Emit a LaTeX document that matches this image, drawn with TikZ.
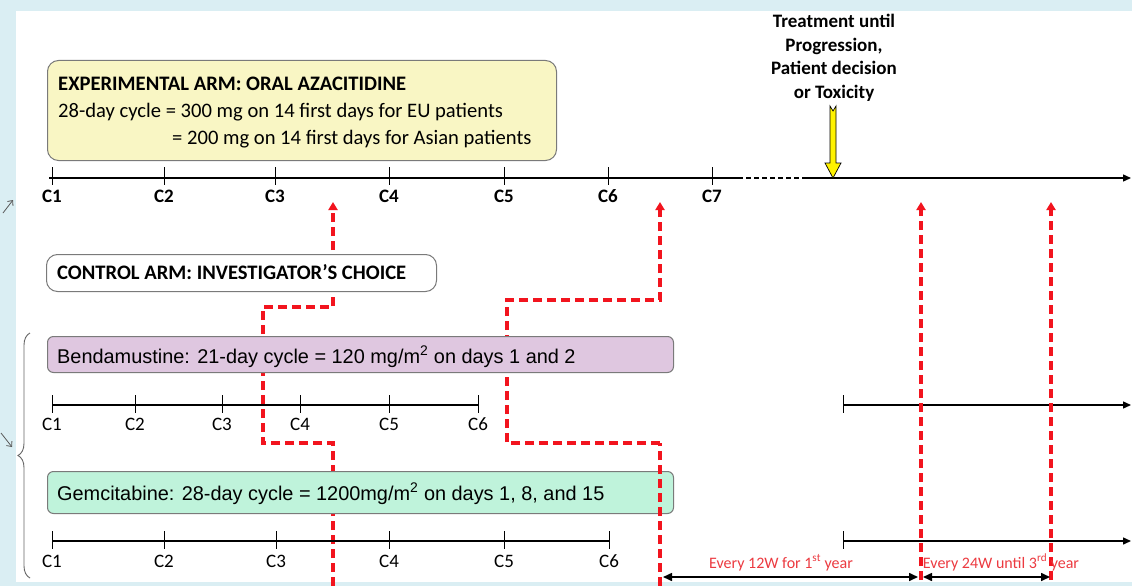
\documentclass[tikz,border=0pt]{standalone}
\usepackage{fontspec}
\setmainfont{Carlito}
\newfontfamily\arialf{Liberation Sans}
\usetikzlibrary{arrows.meta,decorations.pathreplacing}
\definecolor{bgblue}{HTML}{DAEEF3}
\definecolor{yelfill}{HTML}{F9F6C4}
\definecolor{purfill}{HTML}{DFC7E0}
\definecolor{mintfill}{HTML}{BFF3DB}
\definecolor{boxgray}{HTML}{7A7A7A}
\definecolor{arrred}{HTML}{F2141E}
\definecolor{txtred}{HTML}{EC3A40}
\begin{document}
\begin{tikzpicture}[x=1pt,y=-1pt,
  armbox/.style={draw=boxgray, line width=1pt, rounded corners=11pt, anchor=north west, inner sep=0pt},
  boxtext/.style={anchor=base west, inner sep=0pt, font=\fontsize{20.6}{24}\selectfont},
  boxtitle/.style={anchor=base west, inner sep=0pt, font=\bfseries\fontsize{20.6}{24}\selectfont},
  drugtext/.style={anchor=base west, inner sep=0pt, font=\arialf\fontsize{19.9}{24}\selectfont},
  tline/.style={line width=1.4pt, black},
  tickmark/.style={line width=0.9pt, black},
  toplab/.style={anchor=base, inner sep=0pt, font=\bfseries\fontsize{19}{21}\selectfont},
  lowlab/.style={anchor=base, inner sep=0pt, font=\fontsize{19}{21}\selectfont},
  reddash/.style={draw=arrred, line width=3.2pt, dash pattern=on 9pt off 5pt},
  redtip/.style={-{Triangle[length=8pt,width=9pt]}},
  endtip/.style={-{Triangle[length=8pt,width=7pt]}},
  both/.style={{Triangle[length=9pt,width=8pt]}-{Triangle[length=9pt,width=8pt]}, line width=1.6pt},
  redlab/.style={anchor=base, inner sep=0pt, text=txtred, font=\fontsize{16}{18}\selectfont}
]
\useasboundingbox (0,0) rectangle (1132,586);
\fill[bgblue] (0,0) rectangle (1132,586);
\fill[white] (16,11) rectangle (1132,582);

% small marks in the left margin
\draw[gray!70!black, line width=0.8pt, -{Straight Barb[length=4pt,width=7pt]}] (3,213) -- (13,200);
\draw[gray!70!black, line width=0.8pt, -{Straight Barb[length=4pt,width=7pt]}] (1,433) -- (12,447);

% brace
\draw[decorate, decoration={brace, amplitude=12pt}, draw=gray!80!black, line width=0.9pt] (30,578) -- (30,333);

% ---------- red dashed paths (behind the boxes) ----------
\coordinate (p1bot) at (333,586);
\coordinate (p1c) at (333,443);
\coordinate (p1d) at (263,443);
\coordinate (p1e) at (263,307);
\coordinate (p1f) at (333,307);
\coordinate (p1tip) at (333,202);
\draw[reddash, redtip] (p1bot) -- (p1c) -- (p1d) -- (p1e) -- (p1f) -- (p1tip);

\coordinate (p2c) at (660,443);
\coordinate (p2d) at (507,443);
\coordinate (p2e) at (507,300);
\coordinate (p2f) at (660,300);
\coordinate (p2tip) at (660,202);
\draw[reddash, redtip] (p2c) -- (p2d) -- (p2e) -- (p2f) -- (p2tip);

% ---------- boxes ----------
\node[armbox, fill=yelfill, minimum width=509pt, minimum height=100pt] (exp) at (47,60) {};
\node[boxtitle] (expT) at (58,90) {EXPERIMENTAL ARM: ORAL AZACITIDINE};
\node[boxtext] (expA) at (58,117) {28-day cycle = 300 mg on 14 first days for EU patients};
\node[boxtext] (expB) at (172,144) {= 200 mg on 14 first days for Asian patients};

\node[armbox, fill=white, minimum width=390pt, minimum height=37pt] (ctrl) at (46,254) {};
\node[boxtitle] (ctrlT) at (57,279) {CONTROL ARM: INVESTIGATOR’S CHOICE};

\node[armbox, fill=purfill, minimum width=626pt, minimum height=36pt, rounded corners=6pt] (benda) at (47,336) {};
\node[drugtext] (bendaT) at (57,363) {Bendamustine: 21-day cycle = 120 mg/m\textsuperscript{2} on days 1 and 2};

\node[armbox, fill=mintfill, minimum width=626pt, minimum height=42pt, rounded corners=6pt] (gem) at (47,471) {};
\node[drugtext] (gemT) at (57,500) {Gemcitabine: 28-day cycle = 1200mg/m\textsuperscript{2} on days 1, 8, and 15};

% lower part of path 2 (in front of the gemcitabine box)
\coordinate (p2bot) at (660,586);
\draw[reddash] (p2bot) -- (p2c);

% ---------- top timeline ----------
\coordinate (tA) at (49,178);
\coordinate (tB) at (738,178);
\coordinate (tC) at (805,178);
\coordinate (tD) at (1131,178);
\draw[tline] (tA) -- (tB);
\draw[tline, dash pattern=on 5pt off 3pt] (tB) -- (tC);
\draw[tline, endtip] (tC) -- (tD);
\foreach \x/\l in {52/1,164/2,275/3,389/4,504/5,608/6,712/7} {
  \draw[tickmark] (\x,167) -- (\x,185);
  \node[toplab] (topc\l) at (\x,202) {C\l};
}

% ---------- bendamustine timeline ----------
\coordinate (bA) at (52,405);
\coordinate (bB) at (478,405);
\draw[tline] (bA) -- (bB);
\foreach \x/\l in {52/1,135/2,222/3,300/4,389/5,478/6} {
  \draw[tickmark] (\x,395) -- (\x,413);
  \node[lowlab] (benc\l) at (\x,430) {C\l};
}
\coordinate (bR1) at (843,405);
\coordinate (bR2) at (1131,405);
\draw[tline, endtip] (bR1) -- (bR2);
\draw[tickmark] (843,395) -- (843,413);

% ---------- gemcitabine timeline ----------
\coordinate (gA) at (52,541);
\coordinate (gB) at (609,541);
\draw[tline] (gA) -- (gB);
\foreach \x/\l in {52/1,164/2,276/3,389/4,504/5,609/6} {
  \draw[tickmark] (\x,531) -- (\x,549);
  \node[lowlab] (gemc\l) at (\x,567) {C\l};
}
\coordinate (gR1) at (843,541);
\coordinate (gR2) at (1131,541);
\draw[tline, endtip] (gR1) -- (gR2);
\draw[tickmark] (843,531) -- (843,549);

% ---------- right red follow-up arrows ----------
\coordinate (r3bot) at (921,580);
\coordinate (r3tip) at (921,202);
\coordinate (r4bot) at (1051,580);
\coordinate (r4tip) at (1051,202);
\draw[reddash, redtip] (r3bot) -- (r3tip);
\draw[reddash, redtip] (r4bot) -- (r4tip);

% ---------- follow-up intervals ----------
\coordinate (f1) at (663,577);
\coordinate (f2) at (918,577);
\coordinate (f3) at (923,577);
\coordinate (f4) at (1050,577);
\draw[both] (f1) -- (f2);
\draw[both] (f3) -- (f4);
\node[redlab] (fl1) at (781,568) {Every 12W for 1\textsuperscript{st} year};
\node[redlab] (fl2) at (1001,568) {Every 24W until 3\textsuperscript{rd} year};

% ---------- treatment-until text and yellow arrow ----------
\node[anchor=north, inner sep=0pt, align=center, font=\bfseries\fontsize{19}{23.6}\selectfont] (treat) at (834,14) {Treatment until\\Progression,\\Patient decision\\or Toxicity};
\filldraw[fill=yellow, draw=black, line width=0.7pt]
  (830,106) -- (833,111) -- (836,106) -- (836,163) -- (841,163) -- (833,178) -- (825,163) -- (830,163) -- cycle;
\end{tikzpicture}
\end{document}
